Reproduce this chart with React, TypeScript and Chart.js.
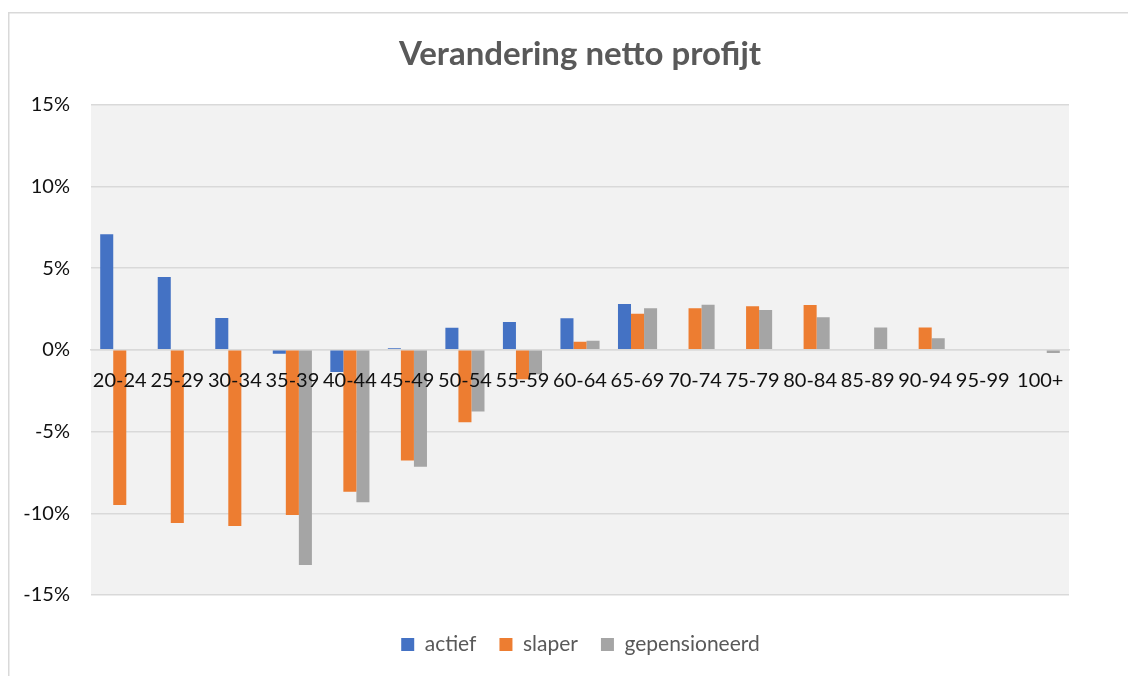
import React, { useEffect, useRef } from "react";
import { Chart, registerables } from "chart.js";

Chart.register(...registerables);

const categories = [
  "20-24", "25-29", "30-34", "35-39", "40-44", "45-49", "50-54", "55-59", "60-64",
  "65-69", "70-74", "75-79", "80-84", "85-89", "90-94", "95-99", "100+",
];
const actief = [7.07, 4.45, 1.95, -0.24, -1.36, 0.1, 1.35, 1.7, 1.93, 2.8, null, null, null, null, null, null, null];
const slaper = [-9.5, -10.6, -10.78, -10.1, -8.68, -6.77, -4.43, -1.8, 0.5, 2.2, 2.54, 2.67, 2.74, null, 1.36, null, null];
const gepensioneerd = [null, null, null, -13.17, -9.33, -7.15, -3.78, -1.5, 0.55, 2.54, 2.75, 2.43, 1.99, 1.36, 0.7, null, -0.2];
const yTicks = [-15, -10, -5, 0, 5, 10, 15];

const TITLE = "Verandering netto profijt";
const FONT = "Lato, 'Open Sans', sans-serif";

const framePlugin = {
  id: "frame",
  beforeDraw(chart: any) {
    const { ctx, chartArea } = chart;
    ctx.save();
    ctx.fillStyle = "#ffffff";
    ctx.fillRect(0, 0, chart.width, chart.height);
    ctx.strokeStyle = "#d9d9d9";
    ctx.lineWidth = 1.5;
    ctx.beginPath();
    ctx.moveTo(0.75, chart.height);
    ctx.lineTo(0.75, 4.75);
    ctx.lineTo(chart.width, 4.75);
    ctx.stroke();
    ctx.fillStyle = "#f2f2f2";
    ctx.fillRect(chartArea.left, chartArea.top, chartArea.right - chartArea.left, chartArea.bottom - chartArea.top);
    ctx.restore();
  },
};

export default function App() {
  const ref = useRef<HTMLCanvasElement>(null);
  useEffect(() => {
    if (!ref.current) return;
    const chart = new Chart(ref.current, {
      type: "bar",
      data: {
        labels: categories,
        datasets: [
          { label: "actief", data: actief, backgroundColor: "#4472C4" },
          { label: "slaper", data: slaper, backgroundColor: "#ED7D31" },
          { label: "gepensioneerd", data: gepensioneerd, backgroundColor: "#A5A5A5" },
        ],
      },
      options: {
        animation: false,
        responsive: false,
        maintainAspectRatio: false,
        layout: { padding: { left: 0, right: -17, top: 0, bottom: 11 } },
        datasets: { bar: { categoryPercentage: 0.68, barPercentage: 1 } },
        plugins: {
          title: {
            display: true,
            fullSize: false,
            text: TITLE,
            color: "#595959",
            font: { family: FONT, size: 33, weight: "bold", lineHeight: 1.2 },
            padding: { top: 27, bottom: 30 },
          },
          legend: {
            position: "bottom",
            fullSize: true,
            labels: {
              color: "#595959",
              font: { family: FONT, size: 21 },
              boxWidth: 13,
              boxHeight: 13,
              padding: 23,
            },
          },
          tooltip: { enabled: false },
        },
        scales: {
          x: {
            type: "category",
            position: { y: 0 } as any,
            grid: { display: false, drawTicks: false },
            border: { display: true, color: "#d9d9d9", width: 1.5 },
            ticks: {
              z: 1,
              color: "#111111",
              font: { family: FONT, size: 20 },
              padding: 19,
              maxRotation: 0,
              autoSkip: false,
            },
          },
          x2: {
            type: "category",
            position: "bottom",
            labels: categories,
            grid: { display: false, drawTicks: false },
            border: { display: false },
            ticks: { display: false },
            afterFit: (s: any) => {
              s.height = 16;
            },
          },
          y: {
            min: -15,
            max: 15,
            afterBuildTicks: (s: any) => {
              s.ticks = yTicks.map((v) => ({ value: v }));
            },
            afterFit: (s: any) => {
              s.width = 83;
            },
            grid: { color: "#d9d9d9", lineWidth: 1.5, drawTicks: false },
            border: { display: false },
            ticks: {
              color: "#111111",
              font: { family: FONT, size: 20 },
              padding: 21,
              callback: (v: any) => `${v}%`,
            },
          },
          y2: {
            position: "right",
            min: -15,
            max: 15,
            grid: { display: false, drawTicks: false },
            border: { display: false },
            ticks: { display: false },
            afterFit: (s: any) => {
              s.width = 84;
            },
          },
        },
      },
      plugins: [framePlugin],
    });
    return () => chart.destroy();
  }, []);
  return (
    <canvas ref={ref} width={1128} height={668} style={{ display: "block", width: 1128, height: 668 }} />
  );
}
